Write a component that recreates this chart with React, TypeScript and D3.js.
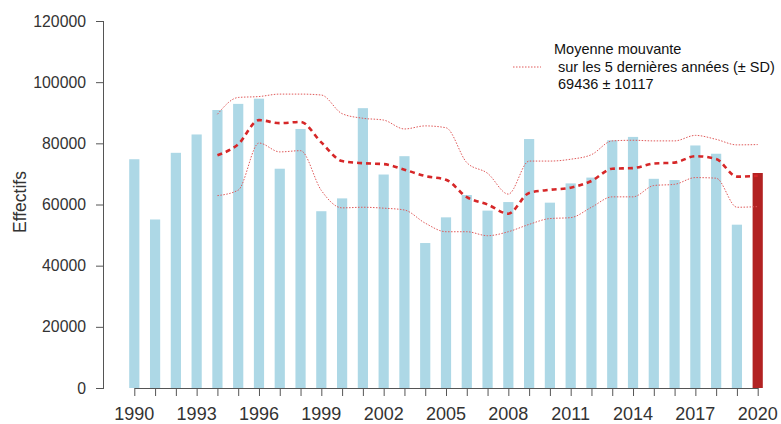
import React, { useEffect, useRef } from "react";
import * as d3 from "d3";

// annual counts
const years = d3.range(1990, 2021);
const effectifs = [
  74800, 55100, 76900, 82900, 90900, 92900, 94600, 71700, 84700, 57800,
  62000, 91500, 69800, 75800, 47400, 55800, 63100, 58000, 60800, 81400,
  60600, 66900, 68800, 81000, 82100, 68400, 68000, 79300, 76600, 53400,
  70300
];

// moving average over the last 5 years, from 1994 on
const meanYears = d3.range(1994, 2021);
const meanValues = [
  76100, 79700, 87600, 86600, 87000, 80300, 74200, 73500, 73200, 71400,
  69300, 68100, 62400, 60000, 57000, 63800, 64800, 65500, 67700, 71700,
  71900, 73400, 73700, 75800, 74900, 69100, 69400
];
const upperValues = [
  89500, 95000, 95300, 96100, 96100, 95800, 89700, 88200, 87600, 84700,
  85700, 85100, 73700, 70200, 63400, 74200, 74200, 74800, 76300, 80800,
  81000, 80800, 80800, 82600, 81300, 79500, 79600
];
const lowerValues = [
  62900, 64700, 80100, 77200, 77600, 64600, 58900, 59100, 58800, 58200,
  53900, 51100, 51100, 49800, 51100, 53500, 55400, 55700, 59100, 62500,
  62500, 66200, 66600, 68800, 68600, 59100, 59300
];

const yTicks = [0, 20000, 40000, 60000, 80000, 100000, 120000];
const xLabels = d3.range(1990, 2021, 3);
const legendLines = [
  "Moyenne mouvante",
  " sur les 5 dernières années (± SD)",
  " 69436 ± 10117"
];

const W = 781;
const H = 424;
const font = "'Liberation Sans', Arial, sans-serif";

const App = () => {
  const svgRef = useRef(null);

  useEffect(() => {
    const svg = d3.select(svgRef.current);
    svg.selectAll("*").remove();

    const x = d3.scaleLinear().domain([1990, 2020]).range([134.3, 757.7]);
    const y = d3.scaleLinear().domain([0, 120000]).range([388, 21]);
    const barW = 10.2;

    // bars
    svg
      .append("g")
      .selectAll("rect")
      .data(years.map((yr, i) => ({ yr, v: effectifs[i] })))
      .enter()
      .append("rect")
      .attr("x", d => x(d.yr) - barW / 2)
      .attr("y", d => y(d.v))
      .attr("width", barW)
      .attr("height", d => y(0) - y(d.v))
      .attr("fill", d => (d.yr === 2020 ? "#b22222" : "#add8e6"));

    const line = d3
      .line()
      .x(d => x(d[0]))
      .y(d => y(d[1]))
      .curve(d3.curveMonotoneX);

    // +/- SD
    [upperValues, lowerValues].forEach(vals => {
      svg
        .append("path")
        .datum(meanYears.map((yr, i) => [yr, vals[i]]))
        .attr("fill", "none")
        .attr("stroke", "#e05a5a")
        .attr("stroke-width", 1)
        .attr("stroke-dasharray", "1.5,1.5")
        .attr("d", line);
    });

    // moving mean
    svg
      .append("path")
      .datum(meanYears.map((yr, i) => [yr, meanValues[i]]))
      .attr("fill", "none")
      .attr("stroke", "#d62728")
      .attr("stroke-width", 2.6)
      .attr("stroke-dasharray", "5,4")
      .attr("d", line);

    // y axis
    const gy = svg
      .append("g")
      .attr("transform", "translate(104,0)")
      .call(d3.axisLeft(y).tickValues(yTicks).tickFormat(d3.format("d")).tickSize(8).tickPadding(10));
    gy.select(".domain").attr("stroke", "#555").attr("d", `M-0.5,${y(120000)}V${y(0)}`);
    gy.selectAll(".tick line").attr("stroke", "#555");
    gy.selectAll("text")
      .style("fill", "#333")
      .style("font-size", "15.8px")
      .style("font-family", font);

    // x axis
    const gx = svg
      .append("g")
      .attr("transform", "translate(0,388)")
      .call(d3.axisBottom(x).tickValues(years).tickFormat(() => "").tickSize(8).tickSizeOuter(0));
    gx.select(".domain").attr("stroke", "#555");
    gx.selectAll(".tick line").attr("stroke", "#555");

    svg
      .append("g")
      .selectAll("text")
      .data(xLabels)
      .enter()
      .append("text")
      .attr("x", d => x(d))
      .attr("y", 419.5)
      .attr("text-anchor", "middle")
      .style("fill", "#333")
      .style("font-size", "18px")
      .style("font-family", font)
      .text(d => d);

    // y label
    svg
      .append("text")
      .attr("transform", "translate(26,202) rotate(-90)")
      .attr("text-anchor", "middle")
      .style("fill", "#333")
      .style("font-size", "17.5px")
      .style("font-family", font)
      .text("Effectifs");

    // legend
    svg
      .append("line")
      .attr("x1", 513)
      .attr("x2", 541)
      .attr("y1", 67)
      .attr("y2", 67)
      .attr("stroke", "#e05a5a")
      .attr("stroke-width", 1)
      .attr("stroke-dasharray", "1.5,1.5");

    svg
      .append("g")
      .selectAll("text")
      .data(legendLines)
      .enter()
      .append("text")
      .attr("x", 554)
      .attr("y", (d, i) => 54 + i * 17.5)
      .attr("xml:space", "preserve")
      .style("white-space", "pre")
      .style("fill", "#111")
      .style("font-size", "14.5px")
      .style("font-family", font)
      .text(d => d);
  }, []);

  return (
    <svg
      ref={svgRef}
      width={W}
      height={H}
      style={{ position: "absolute", left: 0, top: 0, background: "#fff" }}
    ></svg>
  );
};

export default App;
